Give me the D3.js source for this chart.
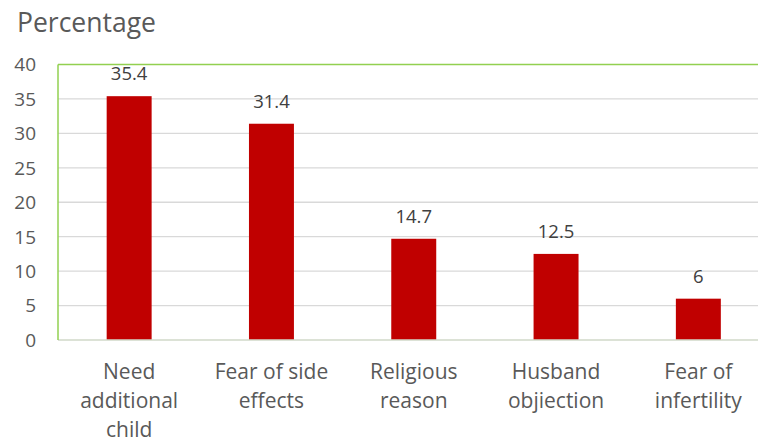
<!DOCTYPE html>
<html><head><meta charset="utf-8">
<script src="https://cdn.jsdelivr.net/npm/d3@7"></script>
<style>body{margin:0;background:#fff;} text{font-family:"Open Sans","Liberation Sans",sans-serif;fill:#595959;}</style>
</head><body>
<svg id="c" width="758" height="442"></svg>
<script>
const categories = [["Need","additional","child"],["Fear of side","effects"],["Religious","reason"],["Husband","objiection"],["Fear of","infertility"]];
const values = [35.4, 31.4, 14.7, 12.5, 6];
const labels = ["35.4","31.4","14.7","12.5","6"];
const yTicks = [0,5,10,15,20,25,30,35,40];

const svg = d3.select("#c");
const L = 58, T = 64.5, B = 340, R = 769.5;
const x = d3.scaleBand().domain(d3.range(values.length)).range([L, R]).paddingInner(0.684).paddingOuter(0.342);
const y = d3.scaleLinear().domain([0, 40]).range([B, T]);

svg.append("text").attr("x", 17).attr("y", 32).attr("font-size", 26.5).text("Percentage");

// gridlines
svg.append("g").selectAll("line").data(yTicks.filter(d => d > 0 && d < 40)).join("line")
  .attr("x1", L).attr("x2", 758).attr("y1", d => y(d)).attr("y2", d => y(d))
  .attr("stroke", "#d9d9d9").attr("stroke-width", 1.3);

// y tick labels
svg.append("g").selectAll("text").data(yTicks).join("text")
  .attr("x", 36).attr("y", d => y(d)).attr("dy", "0.36em").attr("text-anchor", "end")
  .attr("font-size", 19).text(d => d);

// bars
svg.append("g").selectAll("rect").data(values).join("rect")
  .attr("x", (d, i) => x(i)).attr("width", x.bandwidth())
  .attr("y", d => y(d)).attr("height", d => B - y(d)).attr("fill", "#c00000");

// value labels
svg.append("g").selectAll("text").data(values).join("text")
  .attr("x", (d, i) => x(i) + x.bandwidth() / 2).attr("y", d => y(d) - 16)
  .attr("text-anchor", "middle").attr("font-size", 18.5).style("fill", "#404040")
  .text((d, i) => labels[i]);

// borders
svg.append("line").attr("x1", L).attr("x2", 758).attr("y1", B).attr("y2", B).attr("stroke", "#d0d8c8").attr("stroke-width", 1.5);
svg.append("line").attr("x1", L).attr("x2", 758).attr("y1", T).attr("y2", T).attr("stroke", "#92d050").attr("stroke-width", 1.5);
svg.append("line").attr("x1", L).attr("x2", L).attr("y1", T).attr("y2", B).attr("stroke", "#92d050").attr("stroke-width", 1.5);

// category labels
const cg = svg.append("g").selectAll("text").data(categories).join("text")
  .attr("text-anchor", "middle").attr("font-size", 21)
  .attr("transform", (d, i) => `translate(${x(i) + x.bandwidth() / 2},${379})`);
cg.selectAll("tspan").data(d => d).join("tspan").attr("x", 0).attr("y", (d, j) => j * 29).text(d => d);
</script>
</body></html>
